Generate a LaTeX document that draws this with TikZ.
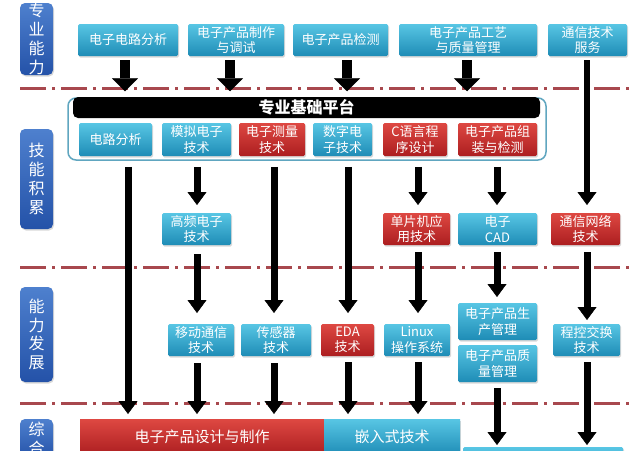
\documentclass[tikz,border=0pt]{standalone}
\usepackage{fontspec}
\setmainfont{Noto Sans CJK SC}
\usetikzlibrary{arrows.meta,calc,shadows}
\definecolor{tealtop}{RGB}{88,198,228}
\definecolor{tealbot}{RGB}{30,140,182}
\definecolor{redtop}{RGB}{222,72,66}
\definecolor{redbot}{RGB}{172,30,32}
\definecolor{lbltop}{RGB}{78,128,206}
\definecolor{lblbot}{RGB}{36,82,168}
\definecolor{dashc}{RGB}{168,72,78}
\definecolor{platc}{RGB}{96,166,192}
\tikzset{
  base/.style={inner sep=0pt, outer sep=0pt, align=center, text=white,
    font=\fontsize{13}{15.5}\selectfont, rounded corners=1.5pt,
    drop shadow={shadow xshift=1pt, shadow yshift=-1.5pt, opacity=0.3}},
  tb/.style={base, top color=tealtop, bottom color=tealbot},
  rb/.style={base, top color=redtop, bottom color=redbot},
  lbl/.style={inner sep=0pt, align=center, text=white,
    font=\fontsize{16}{19}\selectfont, rounded corners=5pt,
    top color=lbltop, bottom color=lblbot, minimum width=33pt,
    drop shadow={shadow xshift=1pt, shadow yshift=-1.5pt, opacity=0.3}},
  arr/.style={line width=7pt, -{Triangle[width=19pt,length=13pt,line width=0.4pt]}},
  toparr/.style={line width=10pt, -{Triangle[width=26pt,length=13pt,line width=0.4pt]}},
  dashline/.style={draw=dashc, line width=3pt, dash pattern=on 26pt off 6pt on 3pt off 6pt},
}
\begin{document}
\begin{tikzpicture}[x=1pt,y=-1pt]
\useasboundingbox (0,0) rectangle (640,450);
\clip (0,0) rectangle (640,450);
\fill[white] (0,0) rectangle (640,450);

% column coordinates
\coordinate (k1) at (125,0);
\coordinate (k2) at (230,0);
\coordinate (k3) at (347,0);
\coordinate (k4) at (467,0);
\coordinate (cA) at (128,0);
\coordinate (cB) at (197,0);
\coordinate (cC) at (274,0);
\coordinate (cD) at (348,0);
\coordinate (cE) at (418,0);
\coordinate (cF) at (497,0);
\coordinate (cG) at (587,0);

% dash-dot separators
\draw[dashline] (20,88) -- (634,88);
\draw[dashline] (20,267) -- (634,267);
\draw[dashline] (20,403) -- (634,403);

% left labels
\node[lbl, minimum height=72pt] (L1) at (36.5,39) {专\\业\\能\\力};
\node[lbl, minimum height=100pt] (L2) at (36.5,179) {技\\能\\积\\累};
\node[lbl, minimum height=95pt, font=\fontsize{16}{18.5}\selectfont] (L3) at (36.5,334.5) {能\\力\\发\\展};
\node[lbl, minimum height=40pt] (L4) at (36.5,439) {综\\合};

% top row
\node[tb, minimum width=100pt, minimum height=32pt] (t1) at (128,40) {电子电路分析};
\node[tb, minimum width=96pt, minimum height=32pt] (t2) at (236,40) {电子产品制作\\与调试};
\node[tb, minimum width=95pt, minimum height=32pt] (t3) at (340.5,40) {电子产品检测};
\node[tb, minimum width=138pt, minimum height=32pt] (t4) at (468,40) {电子产品工艺\\与质量管理};
\node[tb, minimum width=79pt, minimum height=32pt] (t5) at (587.5,40) {通信技术\\服务};

% platform
\node[draw=platc, line width=1.5pt, rounded corners=8pt, fill=white,
      minimum width=478pt, minimum height=62pt, inner sep=0pt] (plat) at (307,129) {};
\node[fill=black, rounded corners=5pt, minimum width=467pt, minimum height=21pt,
      inner sep=0pt, text=white, font=\bfseries\fontsize{16}{16}\selectfont] (bar) at (306.5,107.5) {专业基础平台};
\node[tb, minimum width=73pt, minimum height=33pt] (p1) at (115.5,139.5) {电路分析};
\node[tb, minimum width=69pt, minimum height=33pt] (p2) at (196.5,139.5) {模拟电子\\技术};
\node[rb, minimum width=66pt, minimum height=33pt] (p3) at (272,139.5) {电子测量\\技术};
\node[tb, minimum width=59pt, minimum height=33pt] (p4) at (342.5,139.5) {数字电\\子技术};
\node[rb, minimum width=64pt, minimum height=33pt] (p5) at (415,139.5) {C语言程\\序设计};
\node[rb, minimum width=79pt, minimum height=33pt] (p6) at (497.5,139.5) {电子产品组\\装与检测};

% second row
\node[tb, minimum width=69pt, minimum height=32pt] (r1) at (196.5,229) {高频电子\\技术};
\node[rb, minimum width=67pt, minimum height=32pt] (r2) at (416.5,229) {单片机应\\用技术};
\node[tb, minimum width=79pt, minimum height=32pt] (r3) at (497.5,229) {电子\\CAD};
\node[rb, minimum width=69pt, minimum height=32pt] (r4) at (585.5,229) {通信网络\\技术};

% third row
\node[tb, minimum width=66pt, minimum height=32pt] (s1) at (201,340) {移动通信\\技术};
\node[tb, minimum width=70pt, minimum height=32pt] (s2) at (276,340) {传感器\\技术};
\node[rb, minimum width=53pt, minimum height=32pt] (s3) at (347.5,340) {EDA\\技术};
\node[tb, minimum width=66pt, minimum height=32pt] (s4) at (417,340) {Linux\\操作系统};
\node[tb, minimum width=79pt, minimum height=37pt] (s5) at (497.5,321.5) {电子产品生\\产管理};
\node[tb, minimum width=79pt, minimum height=37pt] (s6) at (497.5,363.5) {电子产品质\\量管理};
\node[tb, minimum width=67pt, minimum height=32pt] (s7) at (586.5,340) {程控交换\\技术};

% bottom row
\node[rb, rounded corners=0pt, minimum width=244pt, minimum height=36pt, font=\fontsize{15}{17}\selectfont] (b1) at (202,437) {电子产品设计与制作};
\node[tb, rounded corners=0pt, minimum width=136pt, minimum height=36pt, font=\fontsize{15}{17}\selectfont] (b2) at (392,437) {嵌入式技术};
\node[tb, minimum width=160pt, minimum height=34pt] (b3) at (543,464) {};

% top arrows
\draw[toparr] ($(t1.south -| k1)+(0,4)$) -- ($(plat.north -| k1)+(0,-6)$);
\draw[toparr] ($(t2.south -| k2)+(0,4)$) -- ($(plat.north -| k2)+(0,-6)$);
\draw[toparr] ($(t3.south -| k3)+(0,4)$) -- ($(plat.north -| k3)+(0,-6)$);
\draw[toparr] ($(t4.south -| k4)+(0,4)$) -- ($(plat.north -| k4)+(0,-6)$);
\draw[arr, line width=6pt] ($(t5.south -| cG)+(0,4)$) -- ($(r4.north -| cG)+(0,-8)$);

% platform arrows
\draw[arr] ($(plat.south -| cA)+(0,6)$) -- ($(b1.north -| cA)+(0,-5)$);
\draw[arr] ($(plat.south -| cB)+(0,6)$) -- ($(r1.north -| cB)+(0,-8)$);
\draw[arr] ($(plat.south -| cC)+(0,6)$) -- ($(s2.north -| cC)+(0,-11)$);
\draw[arr] ($(plat.south -| cD)+(0,6)$) -- ($(s3.north -| cD)+(0,-11)$);
\draw[arr] ($(plat.south -| cE)+(0,6)$) -- ($(r2.north -| cE)+(0,-8)$);
\draw[arr] ($(plat.south -| cF)+(0,6)$) -- ($(r3.north -| cF)+(0,-8)$);

% second row -> third row
\draw[arr] ($(r1.south -| cB)+(0,9)$) -- ($(s1.north -| cB)+(0,-11)$);
\draw[arr] ($(r2.south -| cE)+(0,7)$) -- ($(s4.north -| cE)+(0,-11)$);
\draw[arr] ($(r3.south -| cF)+(0,7)$) -- ($(s5.north -| cF)+(0,-6)$);
\draw[arr] ($(r4.south -| cG)+(0,7)$) -- ($(s7.north -| cG)+(0,-4)$);

% third row -> bottom
\draw[arr] ($(s1.south -| cB)+(0,7)$) -- ($(b1.north -| cB)+(0,-5)$);
\draw[arr] ($(s2.south -| cC)+(0,7)$) -- ($(b1.north -| cC)+(0,-5)$);
\draw[arr] ($(s3.south -| cD)+(0,6)$) -- ($(b2.north -| cD)+(0,-5)$);
\draw[arr] ($(s4.south -| cE)+(0,6)$) -- ($(b2.north -| cE)+(0,-5)$);
\draw[arr] ($(s6.south -| cF)+(0,6)$) -- ($(b3.north -| cF)+(0,-2)$);
\draw[arr] ($(s7.south -| cG)+(0,6)$) -- ($(b3.north -| cG)+(0,-2)$);
\end{tikzpicture}
\end{document}
